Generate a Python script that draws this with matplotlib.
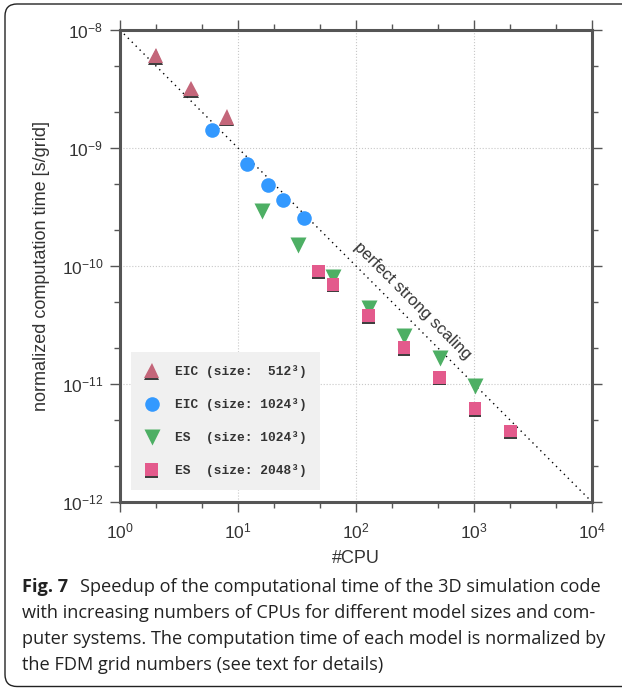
import matplotlib
matplotlib.use("Agg")
import matplotlib.pyplot as plt
import matplotlib.patheffects as pe
from matplotlib.patches import PathPatch
from matplotlib.path import Path
from matplotlib.transforms import IdentityTransform
from matplotlib.ticker import LogLocator

plt.rcParams['font.family'] = ['Liberation Sans', 'DejaVu Sans']
plt.rcParams['mathtext.fontset'] = 'custom'
plt.rcParams['mathtext.rm'] = 'Liberation Sans'
plt.rcParams['mathtext.it'] = 'Liberation Sans:italic'

# data
eic512_cpu = [2, 4, 8]
eic512_t = [6.1e-9, 3.2e-9, 1.83e-9]

eic1024_cpu = [6, 12, 18, 24, 36]
eic1024_t = [1.42e-9, 7.3e-10, 4.85e-10, 3.6e-10, 2.55e-10]

es1024_cpu = [16, 32, 64, 128, 256, 512, 1024]
es1024_t = [2.92e-10, 1.51e-10, 8.0e-11, 4.4e-11, 2.55e-11, 1.66e-11, 9.6e-12]

es2048_cpu = [48, 64, 128, 256, 512, 1024, 2048]
es2048_t = [9.1e-11, 7.0e-11, 3.8e-11, 2.04e-11, 1.14e-11, 6.2e-12, 4.0e-12]

ideal_cpu = [1, 1e4]
ideal_t = [1e-8, 1e-12]

labels = ["EIC (size:  512\u00b3)", "EIC (size: 1024\u00b3)",
          "ES  (size: 1024\u00b3)", "ES  (size: 2048\u00b3)"]

caption_head = "Fig. 7"
caption_lines = [
    "Speedup of the computational time of the 3D simulation code",
    "with increasing numbers of CPUs for different model sizes and com-",
    "puter systems. The computation time of each model is normalized by",
    "the FDM grid numbers (see text for details)",
]

W, H = 622, 688
fig = plt.figure(figsize=(W / 100, H / 100), dpi=100)
ax = fig.add_axes([120 / W, 1 - 502 / H, 472 / W, 472 / H])

shadow = [pe.SimplePatchShadow(offset=(0, -1.3), shadow_rgbFace='#2a2a2a', alpha=0.9), pe.Normal()]

ax.plot(ideal_cpu, ideal_t, linestyle=(0, (1, 3)), color='black', lw=1.0, zorder=2)
ax.plot(eic512_cpu, eic512_t, '^', ms=11, color='#c4667a', mec='none',
        path_effects=shadow, label=labels[0], zorder=3)
ax.plot(eic1024_cpu, eic1024_t, 'o', ms=10.5, color='#3399ff', mec='none',
        label=labels[1], zorder=3)
ax.plot(es1024_cpu, es1024_t, 'v', ms=11.5, color='#4daf64', mec='none',
        label=labels[2], zorder=3)
ax.plot(es2048_cpu, es2048_t, 's', ms=9, color='#e35a8c', mec='none',
        path_effects=shadow, label=labels[3], zorder=4)

ax.set_xscale('log')
ax.set_yscale('log')
ax.set_xlim(1, 1e4)
ax.set_ylim(1e-12, 1e-8)
ax.xaxis.set_major_locator(LogLocator(base=10, numticks=10))
ax.yaxis.set_major_locator(LogLocator(base=10, numticks=10))
ax.xaxis.set_minor_locator(LogLocator(base=10, subs=(2, 5), numticks=10))
ax.yaxis.set_minor_locator(LogLocator(base=10, subs=(2, 5), numticks=10))
ax.tick_params(which='both', direction='out', top=True, right=True,
               color='#555555', width=1.0, labelsize=12.5, labelcolor='#333333')
ax.tick_params(which='major', length=7)
ax.tick_params(axis='x', pad=7)
ax.tick_params(axis='y', pad=5)
ax.tick_params(which='minor', length=4, labelleft=False, labelbottom=False)
for s in ax.spines.values():
    s.set_linewidth(2.2)
    s.set_color('#555555')
ax.grid(True, which='major', linestyle=':', color='#c8c8c8', lw=0.8)
ax.set_axisbelow(True)

ax.set_xlabel("#CPU", fontsize=13, color='#333333', labelpad=6)
ax.set_ylabel("normalized computation time [s/grid]", fontsize=13, color='#333333', labelpad=8)

ax.text(300, 5.1e-11, "perfect strong scaling", rotation=-45, fontsize=12,
        color='#333333', ha='center', va='center', rotation_mode='anchor')

leg = ax.legend(loc='lower left', bbox_to_anchor=(11 / 472, 12 / 472), borderaxespad=0,
                frameon=True, fancybox=False, facecolor='#f0f0f0', edgecolor='none',
                framealpha=1, labelspacing=1.55, borderpad=1.0, handlelength=1.2,
                handletextpad=1.2,
                prop={'family': 'Liberation Mono', 'weight': 'bold', 'size': 9.3})
for t in leg.get_texts():
    t.set_color('#333333')

# rounded frame around figure and caption (open on the right)
r = 12
top, bot, left = H - 4, 1.5, 5
verts = [(W + 50, top), (left + r, top), (left, top), (left, top - r),
         (left, bot + r), (left, bot), (left + r, bot), (W + 50, bot)]
codes = [Path.MOVETO, Path.LINETO, Path.CURVE3, Path.CURVE3,
         Path.LINETO, Path.CURVE3, Path.CURVE3, Path.LINETO]
frame = PathPatch(Path(verts, codes), transform=IdentityTransform(), fill=False,
                  edgecolor='#222222', lw=1.0)
fig.patches.append(frame)

# caption
cap_font = 'Open Sans'
cap_size = 13.1
base0 = 592          # baseline of first caption line, px from top
line_px = 26
x0 = 22.5
head = fig.text(x0 / W, 1 - base0 / H, caption_head, fontsize=cap_size, fontweight='bold',
                family=cap_font, color='#222222', va='baseline', ha='left')
fig.canvas.draw()
bb = head.get_window_extent()
fig.text((bb.x1 + 11) / W, 1 - base0 / H, caption_lines[0], fontsize=cap_size,
         family=cap_font, color='#222222', va='baseline', ha='left')
for i, line in enumerate(caption_lines[1:], start=1):
    fig.text(x0 / W, 1 - (base0 + i * line_px) / H, line, fontsize=cap_size,
             family=cap_font, color='#222222', va='baseline', ha='left')

fig.savefig("out.png", dpi=100)
